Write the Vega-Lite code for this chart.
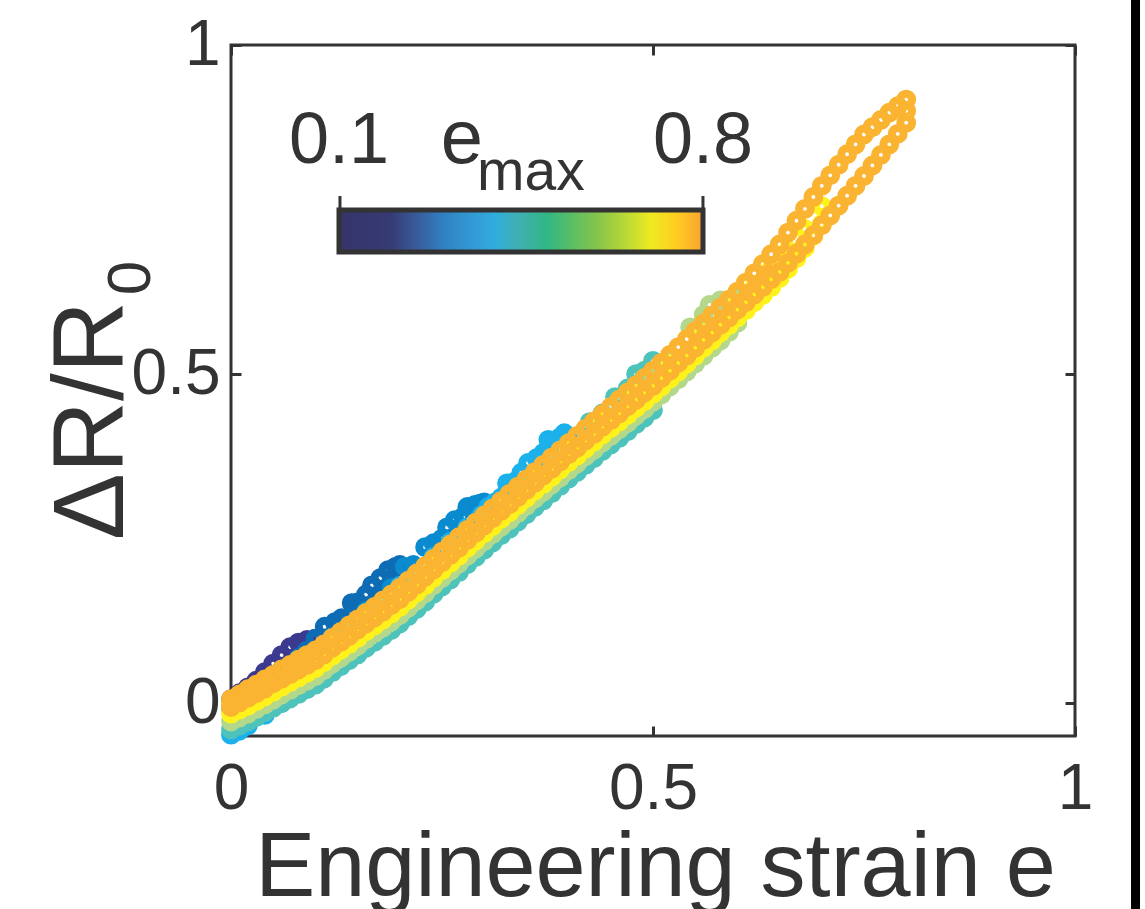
{
  "$schema": "https://vega.github.io/schema/vega-lite/v6.json",
  "width": 844,
  "height": 691,
  "autosize": {"type": "none"},
  "padding": {"left": 231, "top": 45, "right": 70, "bottom": 173},
  "background": "white",
  "config": {
    "font": "Liberation Sans",
    "view": {"stroke": "#333333", "strokeWidth": 3},
    "axis": {"grid": false, "domain": false, "labelFlush": false, "labelOverlap": false}
  },
  "resolve": {"axis": {"x": "independent", "y": "independent"}},
  "layer": [
    {
      "data": {"values": [
        {"m":0.1,"e":0,"r":0.006},{"m":0.1,"e":0.01,"r":0.015},{"m":0.1,"e":0.02,"r":0.024},{"m":0.1,"e":0.03,"r":0.034},{"m":0.1,"e":0.04,"r":0.047},{"m":0.1,"e":0.05,"r":0.06},{"m":0.1,"e":0.06,"r":0.073},{"m":0.1,"e":0.07,"r":0.085},{"m":0.1,"e":0.08,"r":0.092},{"m":0.1,"e":0.09,"r":0.096},{"m":0.1,"e":0.1,"r":0.098},{"m":0.1,"e":0.1,"r":0.08},{"m":0.1,"e":0.09,"r":0.07},{"m":0.1,"e":0.08,"r":0.061},{"m":0.1,"e":0.07,"r":0.053},{"m":0.1,"e":0.06,"r":0.045},{"m":0.1,"e":0.05,"r":0.037},{"m":0.1,"e":0.04,"r":0.029},{"m":0.1,"e":0.03,"r":0.02},{"m":0.1,"e":0.02,"r":0.012},{"m":0.1,"e":0.01,"r":0.004},{"m":0.1,"e":0,"r":-0.004},
        {"m":0.2,"e":0,"r":0.003},{"m":0.2,"e":0.02,"r":0.018},{"m":0.2,"e":0.04,"r":0.034},{"m":0.2,"e":0.06,"r":0.051},{"m":0.2,"e":0.08,"r":0.069},{"m":0.2,"e":0.09,"r":0.08},{"m":0.2,"e":0.1,"r":0.098},{"m":0.2,"e":0.111,"r":0.116},{"m":0.2,"e":0.123,"r":0.123},{"m":0.2,"e":0.131,"r":0.129},{"m":0.2,"e":0.143,"r":0.152},{"m":0.2,"e":0.15,"r":0.153},{"m":0.2,"e":0.16,"r":0.165},{"m":0.2,"e":0.167,"r":0.179},{"m":0.2,"e":0.177,"r":0.19},{"m":0.2,"e":0.186,"r":0.202},{"m":0.2,"e":0.195,"r":0.207},{"m":0.2,"e":0.2,"r":0.21},{"m":0.2,"e":0.2,"r":0.19},{"m":0.2,"e":0.18,"r":0.162},{"m":0.2,"e":0.16,"r":0.14},{"m":0.2,"e":0.14,"r":0.118},{"m":0.2,"e":0.12,"r":0.098},{"m":0.2,"e":0.1,"r":0.078},{"m":0.2,"e":0.08,"r":0.06},{"m":0.2,"e":0.06,"r":0.043},{"m":0.2,"e":0.04,"r":0.027},{"m":0.2,"e":0.02,"r":0.01},{"m":0.2,"e":0,"r":-0.006},
        {"m":0.3,"e":0,"r":0.004},{"m":0.3,"e":0.04,"r":0.034},{"m":0.3,"e":0.08,"r":0.066},{"m":0.3,"e":0.12,"r":0.1},{"m":0.3,"e":0.16,"r":0.14},{"m":0.3,"e":0.19,"r":0.175},{"m":0.3,"e":0.206,"r":0.207},{"m":0.3,"e":0.216,"r":0.21},{"m":0.3,"e":0.23,"r":0.237},{"m":0.3,"e":0.24,"r":0.243},{"m":0.3,"e":0.25,"r":0.25},{"m":0.3,"e":0.256,"r":0.267},{"m":0.3,"e":0.265,"r":0.278},{"m":0.3,"e":0.275,"r":0.283},{"m":0.3,"e":0.28,"r":0.298},{"m":0.3,"e":0.289,"r":0.301},{"m":0.3,"e":0.295,"r":0.303},{"m":0.3,"e":0.3,"r":0.305},{"m":0.3,"e":0.3,"r":0.28},{"m":0.3,"e":0.27,"r":0.245},{"m":0.3,"e":0.24,"r":0.21},{"m":0.3,"e":0.21,"r":0.178},{"m":0.3,"e":0.18,"r":0.148},{"m":0.3,"e":0.15,"r":0.118},{"m":0.3,"e":0.12,"r":0.09},{"m":0.3,"e":0.09,"r":0.063},{"m":0.3,"e":0.06,"r":0.04},{"m":0.3,"e":0.03,"r":0.016},{"m":0.3,"e":0,"r":-0.002},
        {"m":0.4,"e":0,"r":0},{"m":0.4,"e":0.04,"r":0.03},{"m":0.4,"e":0.08,"r":0.062},{"m":0.4,"e":0.12,"r":0.098},{"m":0.4,"e":0.16,"r":0.137},{"m":0.4,"e":0.2,"r":0.178},{"m":0.4,"e":0.24,"r":0.222},{"m":0.4,"e":0.26,"r":0.245},{"m":0.4,"e":0.28,"r":0.267},{"m":0.4,"e":0.29,"r":0.275},{"m":0.4,"e":0.297,"r":0.286},{"m":0.4,"e":0.305,"r":0.298},{"m":0.4,"e":0.313,"r":0.305},{"m":0.4,"e":0.32,"r":0.312},{"m":0.4,"e":0.327,"r":0.32},{"m":0.4,"e":0.327,"r":0.334},{"m":0.4,"e":0.336,"r":0.336},{"m":0.4,"e":0.344,"r":0.35},{"m":0.4,"e":0.352,"r":0.365},{"m":0.4,"e":0.362,"r":0.372},{"m":0.4,"e":0.37,"r":0.38},{"m":0.4,"e":0.374,"r":0.381},{"m":0.4,"e":0.376,"r":0.4},{"m":0.4,"e":0.383,"r":0.392},{"m":0.4,"e":0.39,"r":0.404},{"m":0.4,"e":0.395,"r":0.41},{"m":0.4,"e":0.4,"r":0.4},{"m":0.4,"e":0.4,"r":0.375},{"m":0.4,"e":0.37,"r":0.338},{"m":0.4,"e":0.34,"r":0.3},{"m":0.4,"e":0.31,"r":0.262},{"m":0.4,"e":0.28,"r":0.228},{"m":0.4,"e":0.25,"r":0.195},{"m":0.4,"e":0.22,"r":0.163},{"m":0.4,"e":0.19,"r":0.132},{"m":0.4,"e":0.16,"r":0.102},{"m":0.4,"e":0.13,"r":0.072},{"m":0.4,"e":0.1,"r":0.04},{"m":0.4,"e":0.08,"r":0.02},{"m":0.4,"e":0.06,"r":0},{"m":0.4,"e":0.04,"r":-0.018},{"m":0.4,"e":0.02,"r":-0.034},{"m":0.4,"e":0.01,"r":-0.042},{"m":0.4,"e":0,"r":-0.048},
        {"m":0.5,"e":0,"r":-0.01},{"m":0.5,"e":0.04,"r":0.022},{"m":0.5,"e":0.08,"r":0.055},{"m":0.5,"e":0.12,"r":0.09},{"m":0.5,"e":0.16,"r":0.128},{"m":0.5,"e":0.2,"r":0.168},{"m":0.5,"e":0.24,"r":0.21},{"m":0.5,"e":0.28,"r":0.255},{"m":0.5,"e":0.32,"r":0.3},{"m":0.5,"e":0.36,"r":0.345},{"m":0.5,"e":0.4,"r":0.395},{"m":0.5,"e":0.425,"r":0.427},{"m":0.5,"e":0.44,"r":0.44},{"m":0.5,"e":0.455,"r":0.465},{"m":0.5,"e":0.47,"r":0.478},{"m":0.5,"e":0.48,"r":0.5},{"m":0.5,"e":0.49,"r":0.505},{"m":0.5,"e":0.5,"r":0.52},{"m":0.5,"e":0.5,"r":0.495},{"m":0.5,"e":0.5,"r":0.47},{"m":0.5,"e":0.5,"r":0.445},{"m":0.5,"e":0.48,"r":0.424},{"m":0.5,"e":0.46,"r":0.403},{"m":0.5,"e":0.44,"r":0.383},{"m":0.5,"e":0.42,"r":0.362},{"m":0.5,"e":0.4,"r":0.341},{"m":0.5,"e":0.38,"r":0.319},{"m":0.5,"e":0.36,"r":0.298},{"m":0.5,"e":0.34,"r":0.276},{"m":0.5,"e":0.32,"r":0.255},{"m":0.5,"e":0.3,"r":0.233},{"m":0.5,"e":0.28,"r":0.211},{"m":0.5,"e":0.26,"r":0.188},{"m":0.5,"e":0.24,"r":0.166},{"m":0.5,"e":0.22,"r":0.143},{"m":0.5,"e":0.2,"r":0.121},{"m":0.5,"e":0.18,"r":0.102},{"m":0.5,"e":0.16,"r":0.084},{"m":0.5,"e":0.14,"r":0.065},{"m":0.5,"e":0.12,"r":0.047},{"m":0.5,"e":0.1,"r":0.028},{"m":0.5,"e":0.08,"r":0.014},{"m":0.5,"e":0.06,"r":0},{"m":0.5,"e":0.04,"r":-0.014},{"m":0.5,"e":0.02,"r":-0.028},{"m":0.5,"e":0,"r":-0.04},
        {"m":0.5,"e":0.49,"r":0.434},{"m":0.5,"e":0.47,"r":0.413},{"m":0.5,"e":0.45,"r":0.393},{"m":0.5,"e":0.43,"r":0.372},{"m":0.5,"e":0.41,"r":0.351},{"m":0.5,"e":0.39,"r":0.33},{"m":0.5,"e":0.37,"r":0.308},{"m":0.5,"e":0.35,"r":0.287},{"m":0.5,"e":0.33,"r":0.265},{"m":0.5,"e":0.31,"r":0.244},{"m":0.5,"e":0.29,"r":0.222},{"m":0.5,"e":0.27,"r":0.199},{"m":0.5,"e":0.25,"r":0.177},{"m":0.5,"e":0.23,"r":0.154},{"m":0.5,"e":0.21,"r":0.132},{"m":0.5,"e":0.19,"r":0.111},{"m":0.5,"e":0.17,"r":0.093},{"m":0.5,"e":0.15,"r":0.074},{"m":0.5,"e":0.13,"r":0.056},{"m":0.5,"e":0.11,"r":0.037},{"m":0.5,"e":0.09,"r":0.021},{"m":0.5,"e":0.07,"r":0.007},{"m":0.5,"e":0.05,"r":-0.007},{"m":0.5,"e":0.03,"r":-0.021},{"m":0.5,"e":0.01,"r":-0.034},
        {"m":0.6,"e":0,"r":-0.005},{"m":0.6,"e":0.03,"r":0.015},{"m":0.6,"e":0.06,"r":0.035},{"m":0.6,"e":0.1,"r":0.07},{"m":0.6,"e":0.14,"r":0.108},{"m":0.6,"e":0.18,"r":0.148},{"m":0.6,"e":0.22,"r":0.19},{"m":0.6,"e":0.26,"r":0.235},{"m":0.6,"e":0.3,"r":0.28},{"m":0.6,"e":0.34,"r":0.325},{"m":0.6,"e":0.38,"r":0.37},{"m":0.6,"e":0.42,"r":0.415},{"m":0.6,"e":0.46,"r":0.458},{"m":0.6,"e":0.5,"r":0.497},{"m":0.6,"e":0.52,"r":0.525},{"m":0.6,"e":0.544,"r":0.571},{"m":0.6,"e":0.56,"r":0.59},{"m":0.6,"e":0.567,"r":0.605},{"m":0.6,"e":0.58,"r":0.612},{"m":0.6,"e":0.6,"r":0.62},{"m":0.6,"e":0.6,"r":0.6},{"m":0.6,"e":0.6,"r":0.578},{"m":0.6,"e":0.58,"r":0.551},{"m":0.6,"e":0.56,"r":0.528},{"m":0.6,"e":0.54,"r":0.504},{"m":0.6,"e":0.52,"r":0.481},{"m":0.6,"e":0.5,"r":0.458},{"m":0.6,"e":0.48,"r":0.437},{"m":0.6,"e":0.46,"r":0.416},{"m":0.6,"e":0.44,"r":0.396},{"m":0.6,"e":0.42,"r":0.375},{"m":0.6,"e":0.4,"r":0.354},{"m":0.6,"e":0.38,"r":0.332},{"m":0.6,"e":0.36,"r":0.311},{"m":0.6,"e":0.34,"r":0.289},{"m":0.6,"e":0.32,"r":0.268},{"m":0.6,"e":0.3,"r":0.246},{"m":0.6,"e":0.28,"r":0.224},{"m":0.6,"e":0.26,"r":0.201},{"m":0.6,"e":0.24,"r":0.179},{"m":0.6,"e":0.22,"r":0.156},{"m":0.6,"e":0.2,"r":0.134},{"m":0.6,"e":0.18,"r":0.115},{"m":0.6,"e":0.16,"r":0.097},{"m":0.6,"e":0.14,"r":0.078},{"m":0.6,"e":0.12,"r":0.06},{"m":0.6,"e":0.1,"r":0.041},{"m":0.6,"e":0.08,"r":0.027},{"m":0.6,"e":0.06,"r":0.013},{"m":0.6,"e":0.04,"r":-0.002},{"m":0.6,"e":0.02,"r":-0.016},{"m":0.6,"e":0,"r":-0.028},
        {"m":0.6,"e":0.59,"r":0.564},{"m":0.6,"e":0.57,"r":0.54},{"m":0.6,"e":0.55,"r":0.516},{"m":0.6,"e":0.53,"r":0.492},{"m":0.6,"e":0.51,"r":0.469},{"m":0.6,"e":0.49,"r":0.447},{"m":0.6,"e":0.47,"r":0.426},{"m":0.6,"e":0.45,"r":0.406},{"m":0.6,"e":0.43,"r":0.385},{"m":0.6,"e":0.41,"r":0.364},{"m":0.6,"e":0.39,"r":0.343},{"m":0.6,"e":0.37,"r":0.321},{"m":0.6,"e":0.35,"r":0.3},{"m":0.6,"e":0.33,"r":0.278},{"m":0.6,"e":0.31,"r":0.257},{"m":0.6,"e":0.29,"r":0.235},{"m":0.6,"e":0.27,"r":0.212},{"m":0.6,"e":0.25,"r":0.19},{"m":0.6,"e":0.23,"r":0.167},{"m":0.6,"e":0.21,"r":0.145},{"m":0.6,"e":0.19,"r":0.124},{"m":0.6,"e":0.17,"r":0.106},{"m":0.6,"e":0.15,"r":0.087},{"m":0.6,"e":0.13,"r":0.069},{"m":0.6,"e":0.11,"r":0.05},{"m":0.6,"e":0.09,"r":0.034},{"m":0.6,"e":0.07,"r":0.02},{"m":0.6,"e":0.05,"r":0.005},{"m":0.6,"e":0.03,"r":-0.009},{"m":0.6,"e":0.01,"r":-0.022},
        {"m":0.7,"e":0,"r":0},{"m":0.7,"e":0.04,"r":0.028},{"m":0.7,"e":0.08,"r":0.058},{"m":0.7,"e":0.12,"r":0.093},{"m":0.7,"e":0.16,"r":0.13},{"m":0.7,"e":0.2,"r":0.168},{"m":0.7,"e":0.24,"r":0.213},{"m":0.7,"e":0.28,"r":0.258},{"m":0.7,"e":0.32,"r":0.302},{"m":0.7,"e":0.36,"r":0.345},{"m":0.7,"e":0.4,"r":0.388},{"m":0.7,"e":0.44,"r":0.428},{"m":0.7,"e":0.48,"r":0.47},{"m":0.7,"e":0.52,"r":0.515},{"m":0.7,"e":0.56,"r":0.562},{"m":0.7,"e":0.6,"r":0.608},{"m":0.7,"e":0.62,"r":0.632},{"m":0.7,"e":0.64,"r":0.66},{"m":0.7,"e":0.66,"r":0.688},{"m":0.7,"e":0.68,"r":0.72},{"m":0.7,"e":0.7,"r":0.755},{"m":0.7,"e":0.7,"r":0.728},{"m":0.7,"e":0.68,"r":0.692},{"m":0.7,"e":0.66,"r":0.66},{"m":0.7,"e":0.64,"r":0.632},{"m":0.7,"e":0.62,"r":0.609},{"m":0.7,"e":0.6,"r":0.586},{"m":0.7,"e":0.58,"r":0.563},{"m":0.7,"e":0.56,"r":0.54},{"m":0.7,"e":0.54,"r":0.516},{"m":0.7,"e":0.52,"r":0.493},{"m":0.7,"e":0.5,"r":0.47},{"m":0.7,"e":0.48,"r":0.449},{"m":0.7,"e":0.46,"r":0.428},{"m":0.7,"e":0.44,"r":0.408},{"m":0.7,"e":0.42,"r":0.387},{"m":0.7,"e":0.4,"r":0.366},{"m":0.7,"e":0.38,"r":0.344},{"m":0.7,"e":0.36,"r":0.323},{"m":0.7,"e":0.34,"r":0.301},{"m":0.7,"e":0.32,"r":0.28},{"m":0.7,"e":0.3,"r":0.258},{"m":0.7,"e":0.28,"r":0.236},{"m":0.7,"e":0.26,"r":0.213},{"m":0.7,"e":0.24,"r":0.191},{"m":0.7,"e":0.22,"r":0.168},{"m":0.7,"e":0.2,"r":0.146},{"m":0.7,"e":0.18,"r":0.127},{"m":0.7,"e":0.16,"r":0.109},{"m":0.7,"e":0.14,"r":0.09},{"m":0.7,"e":0.12,"r":0.072},{"m":0.7,"e":0.1,"r":0.053},{"m":0.7,"e":0.08,"r":0.039},{"m":0.7,"e":0.06,"r":0.025},{"m":0.7,"e":0.04,"r":0.01},{"m":0.7,"e":0.02,"r":-0.004},{"m":0.7,"e":0,"r":-0.016},
        {"m":0.7,"e":0.69,"r":0.71},{"m":0.7,"e":0.67,"r":0.676},{"m":0.7,"e":0.65,"r":0.646},{"m":0.7,"e":0.63,"r":0.62},{"m":0.7,"e":0.61,"r":0.597},{"m":0.7,"e":0.59,"r":0.574},{"m":0.7,"e":0.57,"r":0.551},{"m":0.7,"e":0.55,"r":0.528},{"m":0.7,"e":0.53,"r":0.504},{"m":0.7,"e":0.51,"r":0.481},{"m":0.7,"e":0.49,"r":0.459},{"m":0.7,"e":0.47,"r":0.438},{"m":0.7,"e":0.45,"r":0.418},{"m":0.7,"e":0.43,"r":0.397},{"m":0.7,"e":0.41,"r":0.376},{"m":0.7,"e":0.39,"r":0.355},{"m":0.7,"e":0.37,"r":0.333},{"m":0.7,"e":0.35,"r":0.312},{"m":0.7,"e":0.33,"r":0.29},{"m":0.7,"e":0.31,"r":0.269},{"m":0.7,"e":0.29,"r":0.247},{"m":0.7,"e":0.27,"r":0.224},{"m":0.7,"e":0.25,"r":0.202},{"m":0.7,"e":0.23,"r":0.179},{"m":0.7,"e":0.21,"r":0.157},{"m":0.7,"e":0.19,"r":0.136},{"m":0.7,"e":0.17,"r":0.118},{"m":0.7,"e":0.15,"r":0.099},{"m":0.7,"e":0.13,"r":0.081},{"m":0.7,"e":0.11,"r":0.062},{"m":0.7,"e":0.09,"r":0.046},{"m":0.7,"e":0.07,"r":0.032},{"m":0.7,"e":0.05,"r":0.017},{"m":0.7,"e":0.03,"r":0.003},{"m":0.7,"e":0.01,"r":-0.01},
        {"m":0.8,"e":0,"r":0.006},{"m":0.8,"e":0.01,"r":0.013},{"m":0.8,"e":0.02,"r":0.021},{"m":0.8,"e":0.03,"r":0.028},{"m":0.8,"e":0.04,"r":0.036},{"m":0.8,"e":0.05,"r":0.043},{"m":0.8,"e":0.06,"r":0.051},{"m":0.8,"e":0.07,"r":0.058},{"m":0.8,"e":0.08,"r":0.066},{"m":0.8,"e":0.09,"r":0.073},{"m":0.8,"e":0.1,"r":0.08},{"m":0.8,"e":0.11,"r":0.089},{"m":0.8,"e":0.12,"r":0.099},{"m":0.8,"e":0.13,"r":0.108},{"m":0.8,"e":0.14,"r":0.118},{"m":0.8,"e":0.15,"r":0.127},{"m":0.8,"e":0.16,"r":0.137},{"m":0.8,"e":0.17,"r":0.146},{"m":0.8,"e":0.18,"r":0.156},{"m":0.8,"e":0.19,"r":0.165},{"m":0.8,"e":0.2,"r":0.175},{"m":0.8,"e":0.21,"r":0.186},{"m":0.8,"e":0.22,"r":0.197},{"m":0.8,"e":0.23,"r":0.208},{"m":0.8,"e":0.24,"r":0.219},{"m":0.8,"e":0.25,"r":0.23},{"m":0.8,"e":0.26,"r":0.241},{"m":0.8,"e":0.27,"r":0.252},{"m":0.8,"e":0.28,"r":0.263},{"m":0.8,"e":0.29,"r":0.274},{"m":0.8,"e":0.3,"r":0.285},{"m":0.8,"e":0.31,"r":0.296},{"m":0.8,"e":0.32,"r":0.307},{"m":0.8,"e":0.33,"r":0.318},{"m":0.8,"e":0.34,"r":0.329},{"m":0.8,"e":0.35,"r":0.34},{"m":0.8,"e":0.36,"r":0.351},{"m":0.8,"e":0.37,"r":0.362},{"m":0.8,"e":0.38,"r":0.373},{"m":0.8,"e":0.39,"r":0.384},{"m":0.8,"e":0.4,"r":0.395},{"m":0.8,"e":0.41,"r":0.406},{"m":0.8,"e":0.42,"r":0.417},{"m":0.8,"e":0.43,"r":0.428},{"m":0.8,"e":0.44,"r":0.439},{"m":0.8,"e":0.45,"r":0.45},{"m":0.8,"e":0.46,"r":0.461},{"m":0.8,"e":0.47,"r":0.472},{"m":0.8,"e":0.48,"r":0.483},{"m":0.8,"e":0.49,"r":0.494},{"m":0.8,"e":0.5,"r":0.505},{"m":0.8,"e":0.51,"r":0.517},{"m":0.8,"e":0.52,"r":0.529},{"m":0.8,"e":0.53,"r":0.541},{"m":0.8,"e":0.54,"r":0.553},{"m":0.8,"e":0.55,"r":0.565},{"m":0.8,"e":0.56,"r":0.577},{"m":0.8,"e":0.57,"r":0.589},{"m":0.8,"e":0.58,"r":0.601},{"m":0.8,"e":0.59,"r":0.613},{"m":0.8,"e":0.6,"r":0.625},{"m":0.8,"e":0.61,"r":0.639},{"m":0.8,"e":0.62,"r":0.653},{"m":0.8,"e":0.63,"r":0.667},{"m":0.8,"e":0.64,"r":0.682},{"m":0.8,"e":0.65,"r":0.697},{"m":0.8,"e":0.66,"r":0.715},{"m":0.8,"e":0.67,"r":0.733},{"m":0.8,"e":0.68,"r":0.751},{"m":0.8,"e":0.69,"r":0.769},{"m":0.8,"e":0.7,"r":0.786},{"m":0.8,"e":0.71,"r":0.802},{"m":0.8,"e":0.72,"r":0.818},{"m":0.8,"e":0.73,"r":0.834},{"m":0.8,"e":0.74,"r":0.849},{"m":0.8,"e":0.75,"r":0.864},{"m":0.8,"e":0.76,"r":0.875},{"m":0.8,"e":0.77,"r":0.886},{"m":0.8,"e":0.78,"r":0.897},{"m":0.8,"e":0.79,"r":0.907},{"m":0.8,"e":0.8,"r":0.917},{"m":0.8,"e":0.8,"r":0.9},
        {"m":0.8,"e":0.8,"r":0.882},{"m":0.8,"e":0.79,"r":0.865},{"m":0.8,"e":0.78,"r":0.849},{"m":0.8,"e":0.77,"r":0.833},{"m":0.8,"e":0.76,"r":0.817},{"m":0.8,"e":0.75,"r":0.801},{"m":0.8,"e":0.74,"r":0.786},{"m":0.8,"e":0.73,"r":0.771},{"m":0.8,"e":0.72,"r":0.756},{"m":0.8,"e":0.71,"r":0.741},{"m":0.8,"e":0.7,"r":0.726},{"m":0.8,"e":0.69,"r":0.711},{"m":0.8,"e":0.68,"r":0.697},{"m":0.8,"e":0.67,"r":0.683},{"m":0.8,"e":0.66,"r":0.669},{"m":0.8,"e":0.65,"r":0.655},{"m":0.8,"e":0.64,"r":0.644},{"m":0.8,"e":0.63,"r":0.632},{"m":0.8,"e":0.62,"r":0.621},{"m":0.8,"e":0.61,"r":0.609},{"m":0.8,"e":0.6,"r":0.598},{"m":0.8,"e":0.59,"r":0.586},{"m":0.8,"e":0.58,"r":0.575},{"m":0.8,"e":0.57,"r":0.563},{"m":0.8,"e":0.56,"r":0.552},{"m":0.8,"e":0.55,"r":0.54},{"m":0.8,"e":0.54,"r":0.528},{"m":0.8,"e":0.53,"r":0.517},{"m":0.8,"e":0.52,"r":0.505},{"m":0.8,"e":0.51,"r":0.494},{"m":0.8,"e":0.5,"r":0.482},{"m":0.8,"e":0.49,"r":0.472},{"m":0.8,"e":0.48,"r":0.461},{"m":0.8,"e":0.47,"r":0.451},{"m":0.8,"e":0.46,"r":0.44},{"m":0.8,"e":0.45,"r":0.43},{"m":0.8,"e":0.44,"r":0.42},{"m":0.8,"e":0.43,"r":0.409},{"m":0.8,"e":0.42,"r":0.399},{"m":0.8,"e":0.41,"r":0.388},{"m":0.8,"e":0.4,"r":0.378},{"m":0.8,"e":0.39,"r":0.367},{"m":0.8,"e":0.38,"r":0.356},{"m":0.8,"e":0.37,"r":0.346},{"m":0.8,"e":0.36,"r":0.335},{"m":0.8,"e":0.35,"r":0.324},{"m":0.8,"e":0.34,"r":0.313},{"m":0.8,"e":0.33,"r":0.302},{"m":0.8,"e":0.32,"r":0.292},{"m":0.8,"e":0.31,"r":0.281},{"m":0.8,"e":0.3,"r":0.27},{"m":0.8,"e":0.29,"r":0.259},{"m":0.8,"e":0.28,"r":0.248},{"m":0.8,"e":0.27,"r":0.236},{"m":0.8,"e":0.26,"r":0.225},{"m":0.8,"e":0.25,"r":0.214},{"m":0.8,"e":0.24,"r":0.203},{"m":0.8,"e":0.23,"r":0.192},{"m":0.8,"e":0.22,"r":0.18},{"m":0.8,"e":0.21,"r":0.169},{"m":0.8,"e":0.2,"r":0.158},{"m":0.8,"e":0.19,"r":0.149},{"m":0.8,"e":0.18,"r":0.139},{"m":0.8,"e":0.17,"r":0.13},{"m":0.8,"e":0.16,"r":0.121},{"m":0.8,"e":0.15,"r":0.112},{"m":0.8,"e":0.14,"r":0.102},{"m":0.8,"e":0.13,"r":0.093},{"m":0.8,"e":0.12,"r":0.084},{"m":0.8,"e":0.11,"r":0.074},{"m":0.8,"e":0.1,"r":0.065},{"m":0.8,"e":0.09,"r":0.058},{"m":0.8,"e":0.08,"r":0.051},{"m":0.8,"e":0.07,"r":0.044},{"m":0.8,"e":0.06,"r":0.037},{"m":0.8,"e":0.05,"r":0.03},{"m":0.8,"e":0.04,"r":0.022},{"m":0.8,"e":0.03,"r":0.015},{"m":0.8,"e":0.02,"r":0.008},{"m":0.8,"e":0.01,"r":0.001},{"m":0.8,"e":0,"r":-0.006}
      ]},
      "mark": {"type": "point", "filled": false, "size": 140, "strokeWidth": 8, "opacity": 1, "clip": false},
      "encoding": {
        "x": {"field": "e", "type": "quantitative", "scale": {"domain": [0, 1], "nice": false, "zero": false},
          "axis": {"orient": "bottom", "values": [0, 0.5, 1], "format": "~g", "tickSize": -10, "tickWidth": 3, "tickColor": "#333333",
            "labelFontSize": 64, "labelColor": "#333333", "labelBaseline": "alphabetic", "labelPadding": 82,
            "title": "Engineering strain e", "titleFontSize": 90, "titleFontWeight": "normal", "titleColor": "#333333",
            "titleX": 424, "titleY": 159, "titleBaseline": "alphabetic", "titleAlign": "center"}},
        "y": {"field": "r", "type": "quantitative", "scale": {"domain": [-0.05, 1], "nice": false, "zero": false},
          "axis": {"orient": "left", "values": [0, 0.5, 1], "format": "~g", "tickSize": -10, "tickWidth": 3, "tickColor": "#333333",
            "labelFontSize": 64, "labelColor": "#333333", "labelPadding": 21, "labelBaseline": "middle",
            "title": "ΔR/R", "titleFontSize": 100, "titleFontWeight": "normal", "titleColor": "#333333",
            "titleAngle": 270, "titleX": -109, "titleY": 375, "titleBaseline": "alphabetic", "titleAlign": "center"}},
        "stroke": {"field": "m", "type": "ordinal",
          "scale": {"domain": [0.1, 0.2, 0.3, 0.4, 0.5, 0.6, 0.7, 0.8],
            "range": ["#3b3a8f", "#0e6cb4", "#0a8bd0", "#1db1eb", "#4ec3bb", "#b3d88c", "#fff21c", "#fbb431"]},
          "legend": null}
      }
    },
    {
      "data": {"values": [{"m": 0.1, "e": 0.5, "r": 0.5}, {"m": 0.8, "e": 0.5, "r": 0.5}]},
      "mark": {"type": "point", "filled": true, "size": 0, "opacity": 1},
      "encoding": {
        "x": {"field": "e", "type": "quantitative", "scale": {"domain": [0, 1], "nice": false, "zero": false},
          "axis": {"orient": "top", "values": [0, 0.5, 1], "labels": false, "title": null, "tickSize": -10, "tickWidth": 3, "tickColor": "#333333"}},
        "y": {"field": "r", "type": "quantitative", "scale": {"domain": [-0.05, 1], "nice": false, "zero": false},
          "axis": {"orient": "right", "values": [0, 0.5, 1], "labels": false, "title": null, "tickSize": -10, "tickWidth": 3, "tickColor": "#333333"}},
        "fill": {"field": "m", "type": "quantitative",
          "scale": {"type": "linear", "domain": [0.1, 0.198, 0.303, 0.394, 0.45, 0.513, 0.604, 0.7125, 0.8],
            "range": ["#35346a", "#363a72", "#2f82c3", "#3aabe2", "#40b0ac", "#3cb877", "#8dc547", "#fdee1b", "#f7a231"]},
          "legend": {"orient": "none", "legendX": 108, "legendY": 165, "direction": "horizontal",
            "gradientLength": 364, "gradientThickness": 42, "gradientStrokeColor": "#333333", "gradientStrokeWidth": 5, "gradientOpacity": 1,
            "values": [0.1, 0.8], "format": ".1f", "labelFontSize": 72, "labelColor": "#333333", "labelOpacity": 1,
            "labelAlign": "center", "labelBaseline": "alphabetic", "labelOffset": -146, "title": null, "padding": 0,
            "encode": {"labels": {"update": {"align": {"value": "center"}}}}}}
      }
    },
    {
      "data": {"values": [{"e": 0.1291, "r": 0.7705, "r2": 0.7492}, {"e": 0.5592, "r": 0.7705, "r2": 0.7492}]},
      "mark": {"type": "rule", "color": "#333333", "strokeWidth": 3},
      "encoding": {
        "x": {"field": "e", "type": "quantitative", "scale": {"domain": [0, 1], "nice": false, "zero": false}, "axis": null},
        "y": {"field": "r", "type": "quantitative", "scale": {"domain": [-0.05, 1], "nice": false, "zero": false}, "axis": null},
        "y2": {"field": "r2"}
      }
    },
    {
      "data": {"values": [{"label": "e", "e": 0.2737, "r": 0.8207}]},
      "mark": {"type": "text", "fontSize": 76, "align": "center", "baseline": "alphabetic", "color": "#333333"},
      "encoding": {
        "x": {"field": "e", "type": "quantitative", "scale": {"domain": [0, 1], "nice": false, "zero": false}, "axis": null},
        "y": {"field": "r", "type": "quantitative", "scale": {"domain": [-0.05, 1], "nice": false, "zero": false}, "axis": null},
        "text": {"field": "label"}
      }
    },
    {
      "data": {"values": [{"label": "max", "e": 0.2915, "r": 0.7796}]},
      "mark": {"type": "text", "fontSize": 57, "align": "left", "baseline": "alphabetic", "color": "#333333"},
      "encoding": {
        "x": {"field": "e", "type": "quantitative", "scale": {"domain": [0, 1], "nice": false, "zero": false}, "axis": null},
        "y": {"field": "r", "type": "quantitative", "scale": {"domain": [-0.05, 1], "nice": false, "zero": false}, "axis": null},
        "text": {"field": "label"}
      }
    },
    {
      "data": {"values": [{"label": "0", "e": -0.1185, "r": 0.646}]},
      "mark": {"type": "text", "fontSize": 62, "align": "center", "baseline": "middle", "angle": 270, "color": "#333333"},
      "encoding": {
        "x": {"field": "e", "type": "quantitative", "scale": {"domain": [0, 1], "nice": false, "zero": false}, "axis": null},
        "y": {"field": "r", "type": "quantitative", "scale": {"domain": [-0.05, 1], "nice": false, "zero": false}, "axis": null},
        "text": {"field": "label"}
      }
    },
    {
      "data": {"values": [{"e": 1.0717, "r": 1.08, "r2": -0.33}]},
      "mark": {"type": "rule", "color": "#000000", "strokeWidth": 9},
      "encoding": {
        "x": {"field": "e", "type": "quantitative", "scale": {"domain": [0, 1], "nice": false, "zero": false}, "axis": null},
        "y": {"field": "r", "type": "quantitative", "scale": {"domain": [-0.05, 1], "nice": false, "zero": false}, "axis": null},
        "y2": {"field": "r2"}
      }
    }
  ]
}
